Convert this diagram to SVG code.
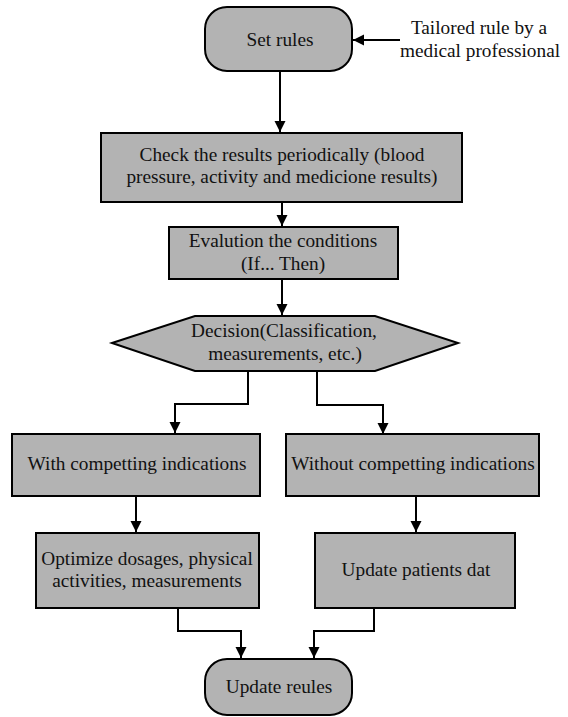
<svg xmlns="http://www.w3.org/2000/svg" width="568" height="717" viewBox="0 0 568 717">
<style>
.n{fill:#b3b3b3;stroke:#000;stroke-width:2}
text{font-family:'Liberation Serif','DejaVu Serif',serif;font-size:19.3px;fill:#111;text-anchor:middle}
.c{fill:none;stroke:#000;stroke-width:2}
</style>
<defs>
<marker id="ah" markerUnits="userSpaceOnUse" markerWidth="12" markerHeight="12" refX="11" refY="6" orient="auto">
<path d="M0,0.5 L11,6 L0,11.5 z" fill="#000"/>
</marker>
</defs>
<rect width="568" height="717" fill="#fff"/>
<g id="connectors">
<line class="c" x1="400" y1="40" x2="353" y2="40" marker-end="url(#ah)"/>
<line class="c" x1="280" y1="71" x2="280" y2="132" marker-end="url(#ah)"/>
<line class="c" x1="282" y1="202" x2="282" y2="226" marker-end="url(#ah)"/>
<line class="c" x1="282" y1="279" x2="282" y2="315" marker-end="url(#ah)"/>
<path class="c" d="M248,371 V404 H175 V433" marker-end="url(#ah)"/>
<path class="c" d="M317,371 V405 H383 V434" marker-end="url(#ah)"/>
<line class="c" x1="136" y1="496" x2="136" y2="532" marker-end="url(#ah)"/>
<line class="c" x1="416" y1="496" x2="416" y2="532" marker-end="url(#ah)"/>
<path class="c" d="M178,608 V631 H241 V658" marker-end="url(#ah)"/>
<path class="c" d="M374,608 V631 H314 V658" marker-end="url(#ah)"/>
</g>
<g id="source">
<text x="479" y="34">Tailored rule by a</text>
<text x="480" y="57">medical professional</text>
</g>
<g id="set-rules">
<rect class="n" x="205" y="7" width="147" height="64" rx="22"/>
<text x="280" y="46">Set rules</text>
</g>
<g id="check">
<rect class="n" x="101" y="133" width="361" height="69"/>
<text x="282" y="161">Check the results periodically (blood</text>
<text x="282" y="183">pressure, activity and medicione results)</text>
</g>
<g id="evaluation">
<rect class="n" x="169" y="227" width="229" height="52"/>
<text x="283" y="247">Evalution the conditions</text>
<text x="283" y="270">(If... Then)</text>
</g>
<g id="decision">
<polygon class="n" points="112,343 195,316 375,316 458,343 375,371 195,371"/>
<text x="284" y="337">Decision(Classification,</text>
<text x="285" y="360">measurements, etc.)</text>
</g>
<g id="with">
<rect class="n" x="12" y="434" width="248" height="62"/>
<text x="137" y="470">With competting indications</text>
</g>
<g id="without">
<rect class="n" x="286" y="434" width="253" height="62"/>
<text x="413" y="470">Without competting indications</text>
</g>
<g id="optimize">
<rect class="n" x="36" y="533" width="223" height="75"/>
<text x="147" y="565">Optimize dosages, physical</text>
<text x="147" y="587">activities, measurements</text>
</g>
<g id="update-patients">
<rect class="n" x="315" y="533" width="200" height="75"/>
<text x="416" y="576">Update patients dat</text>
</g>
<g id="update-rules">
<rect class="n" x="205" y="659" width="147" height="56" rx="22"/>
<text x="279" y="693">Update reules</text>
</g>
</svg>
